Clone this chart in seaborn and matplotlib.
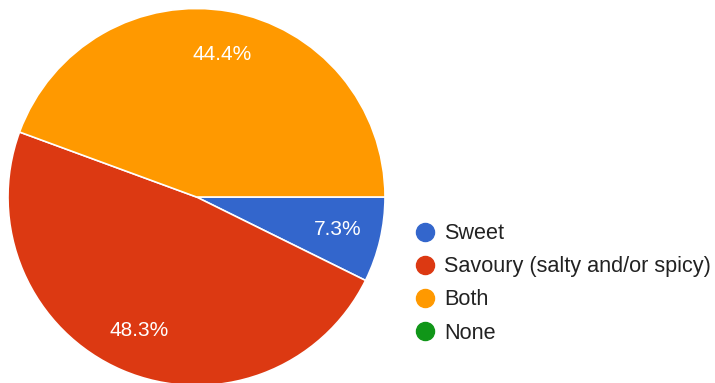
import matplotlib
matplotlib.use("Agg")
import matplotlib.pyplot as plt
from matplotlib.lines import Line2D
import seaborn as sns

categories = ["Sweet", "Savoury (salty and/or spicy)", "Both", "None"]
shares = [7.3, 48.3, 44.4, 0.0]
colors = ["#3366CC", "#DC3912", "#FF9900", "#109618"]

sns.set_theme(style="white")
plt.rcParams["font.family"] = ["Liberation Sans", "DejaVu Sans"]

W, H, DPI = 715, 383, 100
fig = plt.figure(figsize=(W / DPI, H / DPI), dpi=DPI)
fig.patch.set_facecolor("white")

# pie area: centre (196.5, 197) px, radius 188.5 px
r = 188.5
cx, cy = 196.5, 197
ax = fig.add_axes([(cx - r) / W, (H - cy - r) / H, 2 * r / W, 2 * r / H])

drawn = [(s, c) for s, c in zip(shares, colors) if s > 0]
wedges, _, autotexts = ax.pie(
    [s for s, _ in drawn],
    colors=[c for _, c in drawn],
    startangle=0,
    counterclock=False,
    radius=1.0,
    autopct="%.1f%%",
    pctdistance=0.77,
    wedgeprops=dict(edgecolor="white", linewidth=1.2),
    textprops=dict(color="white", fontsize=15),
)
ax.set_xlim(-1, 1)
ax.set_ylim(-1, 1)
ax.set_aspect("equal")
ax.axis("off")

handles = [
    Line2D([], [], marker="o", linestyle="none", markersize=13,
           markerfacecolor=c, markeredgecolor=c)
    for c in colors
]
fig.legend(
    handles, categories,
    loc="upper left",
    bbox_to_anchor=(399 / W, 1 - 208 / H),
    frameon=False,
    fontsize=15.6,
    labelcolor="#222222",
    handlelength=1.0,
    handletextpad=0.4,
    labelspacing=0.56,
    borderpad=0.2,
)

fig.savefig("out.png", dpi=DPI, facecolor="white")
